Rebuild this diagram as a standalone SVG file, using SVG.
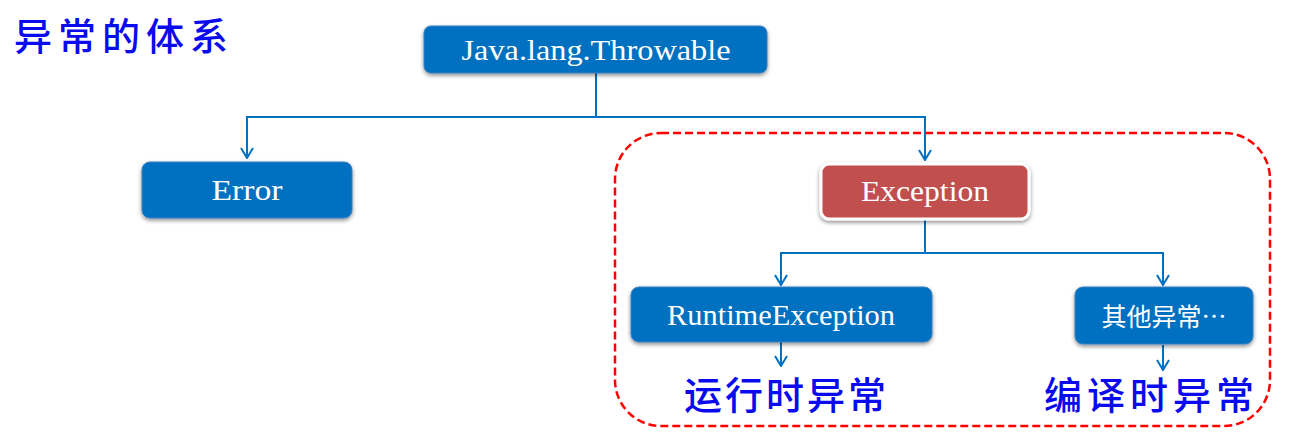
<svg xmlns="http://www.w3.org/2000/svg" width="1302" height="433" viewBox="0 0 1302 433">
<style>
.box{fill:#0070C0;stroke:#3a7fc0;stroke-width:1}
.bt{font-family:"Liberation Serif","DejaVu Serif",serif;font-size:30px;fill:#ffffff;text-anchor:middle}
.ct{font-family:"Noto Sans CJK SC",sans-serif;font-size:25px;fill:#ffffff;text-anchor:middle}
.hand{font-family:"Noto Sans CJK SC",sans-serif;font-weight:500;font-size:38px;fill:#0a0aee}
.conn{fill:none;stroke:#0070C0;stroke-width:2}
</style>
<defs>
<filter id="sh" x="-10%" y="-20%" width="120%" height="150%">
<feGaussianBlur in="SourceAlpha" stdDeviation="2"/>
<feOffset dx="0" dy="2" result="b"/>
<feComponentTransfer><feFuncA type="linear" slope="0.45"/></feComponentTransfer>
<feMerge><feMergeNode/><feMergeNode in="SourceGraphic"/></feMerge>
</filter>
<marker id="arr" viewBox="0 0 12 14" refX="11" refY="7" markerWidth="12" markerHeight="14" markerUnits="userSpaceOnUse" orient="auto">
<path d="M1,1 L11,7 L1,13" fill="none" stroke="#0070C0" stroke-width="2"/>
</marker>
</defs>
<rect width="1302" height="433" fill="#ffffff"/>
<g id="title"><text class="hand" x="14" y="50" letter-spacing="6">异常的体系</text></g>
<g id="region"><rect x="615" y="133" width="655" height="293" rx="46" fill="none" stroke="#ff0000" stroke-width="2.5" stroke-dasharray="8,4"/></g>
<g id="connectors">
<polyline class="conn" points="596,73 596,117 247,117 247,158" marker-end="url(#arr)"/>
<polyline class="conn" points="596,117 925,117 925,160" marker-end="url(#arr)"/>
<polyline class="conn" points="925,219 925,253 781,253 781,285" marker-end="url(#arr)"/>
<polyline class="conn" points="925,253 1163,253 1163,285" marker-end="url(#arr)"/>
<line class="conn" x1="781" y1="342" x2="781" y2="366" marker-end="url(#arr)"/>
<line class="conn" x1="1163" y1="345" x2="1163" y2="370" marker-end="url(#arr)"/>
</g>
<g id="throwable"><rect class="box" x="424" y="26" width="343" height="47" rx="7" filter="url(#sh)"/><text class="bt" x="596" y="60" textLength="269" lengthAdjust="spacingAndGlyphs">Java.lang.Throwable</text></g>
<g id="error"><rect class="box" x="142" y="162" width="210" height="56" rx="8" filter="url(#sh)"/><text class="bt" x="247" y="200" textLength="71" lengthAdjust="spacingAndGlyphs">Error</text></g>
<g id="exception"><rect x="821" y="164" width="208" height="55" rx="8" fill="#C0504D" stroke="#ffffff" stroke-width="3" filter="url(#sh)"/><text class="bt" x="925" y="201" textLength="128" lengthAdjust="spacingAndGlyphs">Exception</text></g>
<g id="runtime"><rect class="box" x="631" y="287" width="301" height="55" rx="8" filter="url(#sh)"/><text class="bt" x="781" y="325" textLength="228" lengthAdjust="spacingAndGlyphs">RuntimeException</text></g>
<g id="other"><rect class="box" x="1075" y="287" width="178" height="57" rx="8" filter="url(#sh)"/><text class="ct" x="1164" y="326">其他异常…</text></g>
<g id="label-runtime"><text class="hand" x="684" y="409" letter-spacing="3">运行时异常</text></g>
<g id="label-compile"><text class="hand" x="1044" y="409" letter-spacing="5">编译时异常</text></g>
</svg>
